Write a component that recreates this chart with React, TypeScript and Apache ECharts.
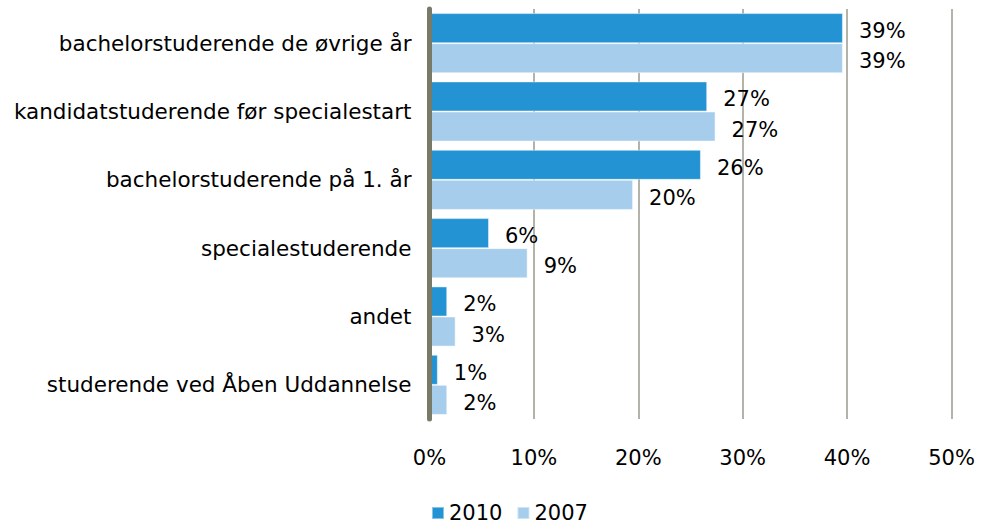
import React, { useEffect, useRef } from "react";
import * as echarts from "echarts";

const categories = [
  "bachelorstuderende de øvrige år",
  "kandidatstuderende før specialestart",
  "bachelorstuderende på 1. år",
  "specialestuderende",
  "andet",
  "studerende ved Åben Uddannelse",
];
const values2010 = [39.6, 26.6, 26.0, 5.7, 1.7, 0.8];
const values2007 = [39.6, 27.4, 19.5, 9.4, 2.5, 1.7];
const labels2010 = ["39%", "27%", "26%", "6%", "2%", "1%"];
const labels2007 = ["39%", "27%", "20%", "9%", "3%", "2%"];
const seriesNames = ["2010", "2007"];
const xTicks = [0, 10, 20, 30, 40, 50];

const FONT = "DejaVu Sans, Verdana, sans-serif";
const FS = 21;

export default function App() {
  const ref = useRef<HTMLDivElement>(null);
  useEffect(() => {
    if (!ref.current) return;
    const chart = echarts.init(ref.current, undefined, { renderer: "svg" });
    const mkSeries = (name: string, data: number[], labels: string[], color: string) => ({
      name,
      type: "bar",
      data,
      barCategoryGap: "12%",
      barGap: "0%",
      itemStyle: { color, borderColor: "rgba(255,255,255,0.45)", borderWidth: 1 },
      label: {
        show: true,
        position: "right",
        distance: 16,
        offset: [0, 3],
        color: "#000",
        fontFamily: FONT,
        fontSize: FS,
        formatter: (p: any) => labels[p.dataIndex],
      },
    });
    chart.setOption({
      animation: false,
      backgroundColor: "#fff",
      textStyle: { fontFamily: FONT },
      grid: { left: 429.5, right: 29.5, top: 9, bottom: 108, containLabel: false },
      legend: {
        data: seriesNames,
        left: 426,
        top: 497,
        itemWidth: 12,
        itemHeight: 12,
        itemGap: 14,
        icon: "rect",
        textStyle: { fontFamily: FONT, fontSize: FS, color: "#000", lineHeight: 22 },
      },
      xAxis: {
        type: "value",
        min: xTicks[0],
        max: xTicks[xTicks.length - 1],
        interval: 10,
        axisLine: { show: false },
        axisTick: { show: false },
        splitLine: { show: true, lineStyle: { color: "#b3b3aa", width: 2 } },
        axisLabel: {
          margin: 28,
          color: "#000",
          fontFamily: FONT,
          fontSize: FS,
          formatter: (v: number) => `${v}%`,
        },
      },
      yAxis: {
        type: "category",
        data: categories,
        inverse: true,
        axisLine: { show: true, lineStyle: { color: "#7a7a68", width: 5 } },
        axisTick: { show: false },
        axisLabel: { margin: 18, color: "#000", fontFamily: FONT, fontSize: 21.5 },
        z: 5,
      },
      series: [
        mkSeries(seriesNames[0], values2010, labels2010, "#2393d3"),
        mkSeries(seriesNames[1], values2007, labels2007, "#a6cdec"),
      ],
    });
    return () => chart.dispose();
  }, []);
  return <div ref={ref} style={{ width: 981, height: 527, position: "absolute", left: 0, top: 0 }} />;
}
